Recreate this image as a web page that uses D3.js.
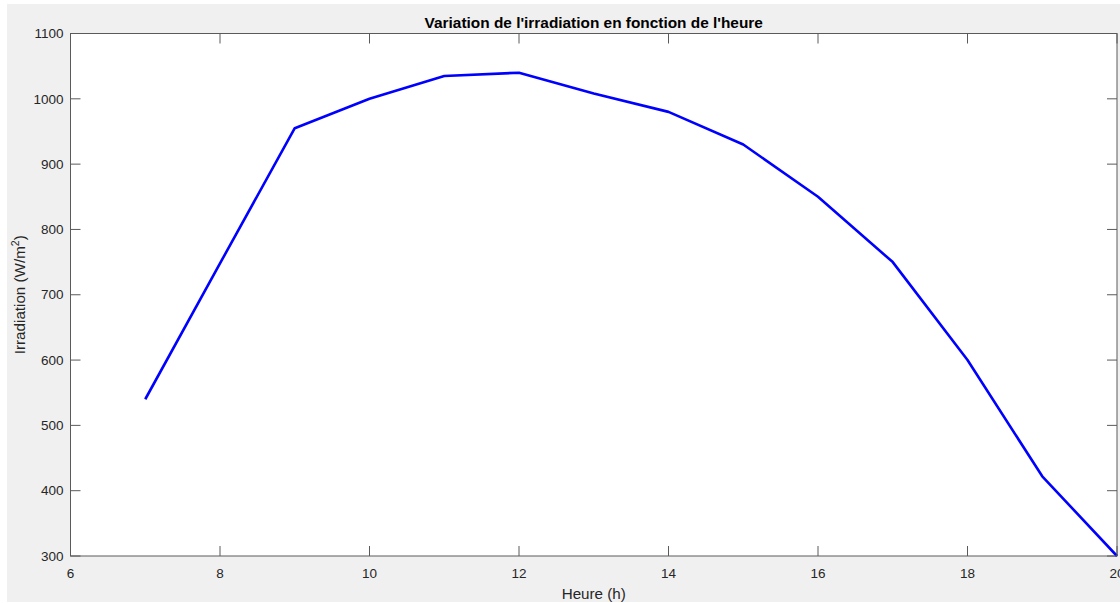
<!DOCTYPE html>
<html><head><meta charset="utf-8">
<script src="https://cdn.jsdelivr.net/npm/d3@7"></script>
<style>body{margin:0;background:#fff}svg{display:block}text{font-family:"Liberation Sans",Arial,sans-serif}</style>
</head><body>
<script>
const hours = [7, 8, 9, 10, 11, 12, 13, 14, 15, 16, 17, 18, 19, 20];
const irradiation = [540, 748, 955, 1000, 1035, 1040, 1008, 980, 930, 850, 750, 600, 422, 300];
const xTicks = [6, 8, 10, 12, 14, 16, 18, 20];
const yTicks = [300, 400, 500, 600, 700, 800, 900, 1000, 1100];
const title = "Variation de l'irradiation en fonction de l'heure";
const xLabel = "Heure (h)";

const W = 1120, H = 603;
const L = 70.5, R = 1117, T = 33.5, B = 556;
const svg = d3.select("body").append("svg").attr("width", W).attr("height", H);
svg.append("rect").attr("x", 7).attr("y", 4).attr("width", W - 7).attr("height", H - 5).attr("fill", "#f0f0f0");
svg.append("rect").attr("x", L).attr("y", T).attr("width", R - L).attr("height", B - T).attr("fill", "#fff");

const x = d3.scaleLinear().domain([6, 20]).range([L, R]);
const y = d3.scaleLinear().domain([300, 1100]).range([B, T]);
const axisColor = "#5a5a5a", textColor = "#262626";

const g = svg.append("g");
xTicks.forEach(t => {
  g.append("line").attr("x1", x(t)).attr("x2", x(t)).attr("y1", B).attr("y2", B - 10).attr("stroke", axisColor);
  g.append("line").attr("x1", x(t)).attr("x2", x(t)).attr("y1", T).attr("y2", T + 10).attr("stroke", axisColor);
  g.append("text").attr("x", x(t)).attr("y", B + 22).attr("text-anchor", "middle").attr("font-size", "13.5px").attr("fill", textColor).text(t);
});
yTicks.forEach(t => {
  g.append("line").attr("x1", L).attr("x2", L + 10).attr("y1", y(t)).attr("y2", y(t)).attr("stroke", axisColor);
  g.append("line").attr("x1", R).attr("x2", R - 10).attr("y1", y(t)).attr("y2", y(t)).attr("stroke", axisColor);
  g.append("text").attr("x", L - 7).attr("y", y(t)).attr("dy", "0.35em").attr("text-anchor", "end").attr("font-size", "13.5px").attr("fill", textColor).text(t);
});

svg.append("path").datum(hours.map((h, i) => [h, irradiation[i]]))
  .attr("d", d3.line().x(d => x(d[0])).y(d => y(d[1])))
  .attr("fill", "none").attr("stroke", "#0000ff").attr("stroke-width", 2.6).attr("stroke-linejoin", "round");

svg.append("rect").attr("x", L).attr("y", T).attr("width", R - L).attr("height", B - T)
  .attr("fill", "none").attr("stroke", axisColor).attr("stroke-width", 1);

svg.append("text").attr("x", (L + R) / 2).attr("y", 28).attr("text-anchor", "middle")
  .attr("font-size", "15.4px").attr("font-weight", "bold").attr("fill", "#000").text(title);
svg.append("text").attr("x", (L + R) / 2).attr("y", 599).attr("text-anchor", "middle")
  .attr("font-size", "15.2px").attr("fill", textColor).text(xLabel);
const yl = svg.append("text").attr("transform", `translate(25,${(T + B) / 2}) rotate(-90)`).attr("text-anchor", "middle")
  .attr("font-size", "15.2px").attr("fill", textColor);
yl.append("tspan").text("Irradiation (W/m");
yl.append("tspan").attr("baseline-shift", "super").attr("font-size", "10.5px").text("2");
yl.append("tspan").text(")");
</script>
</body></html>
